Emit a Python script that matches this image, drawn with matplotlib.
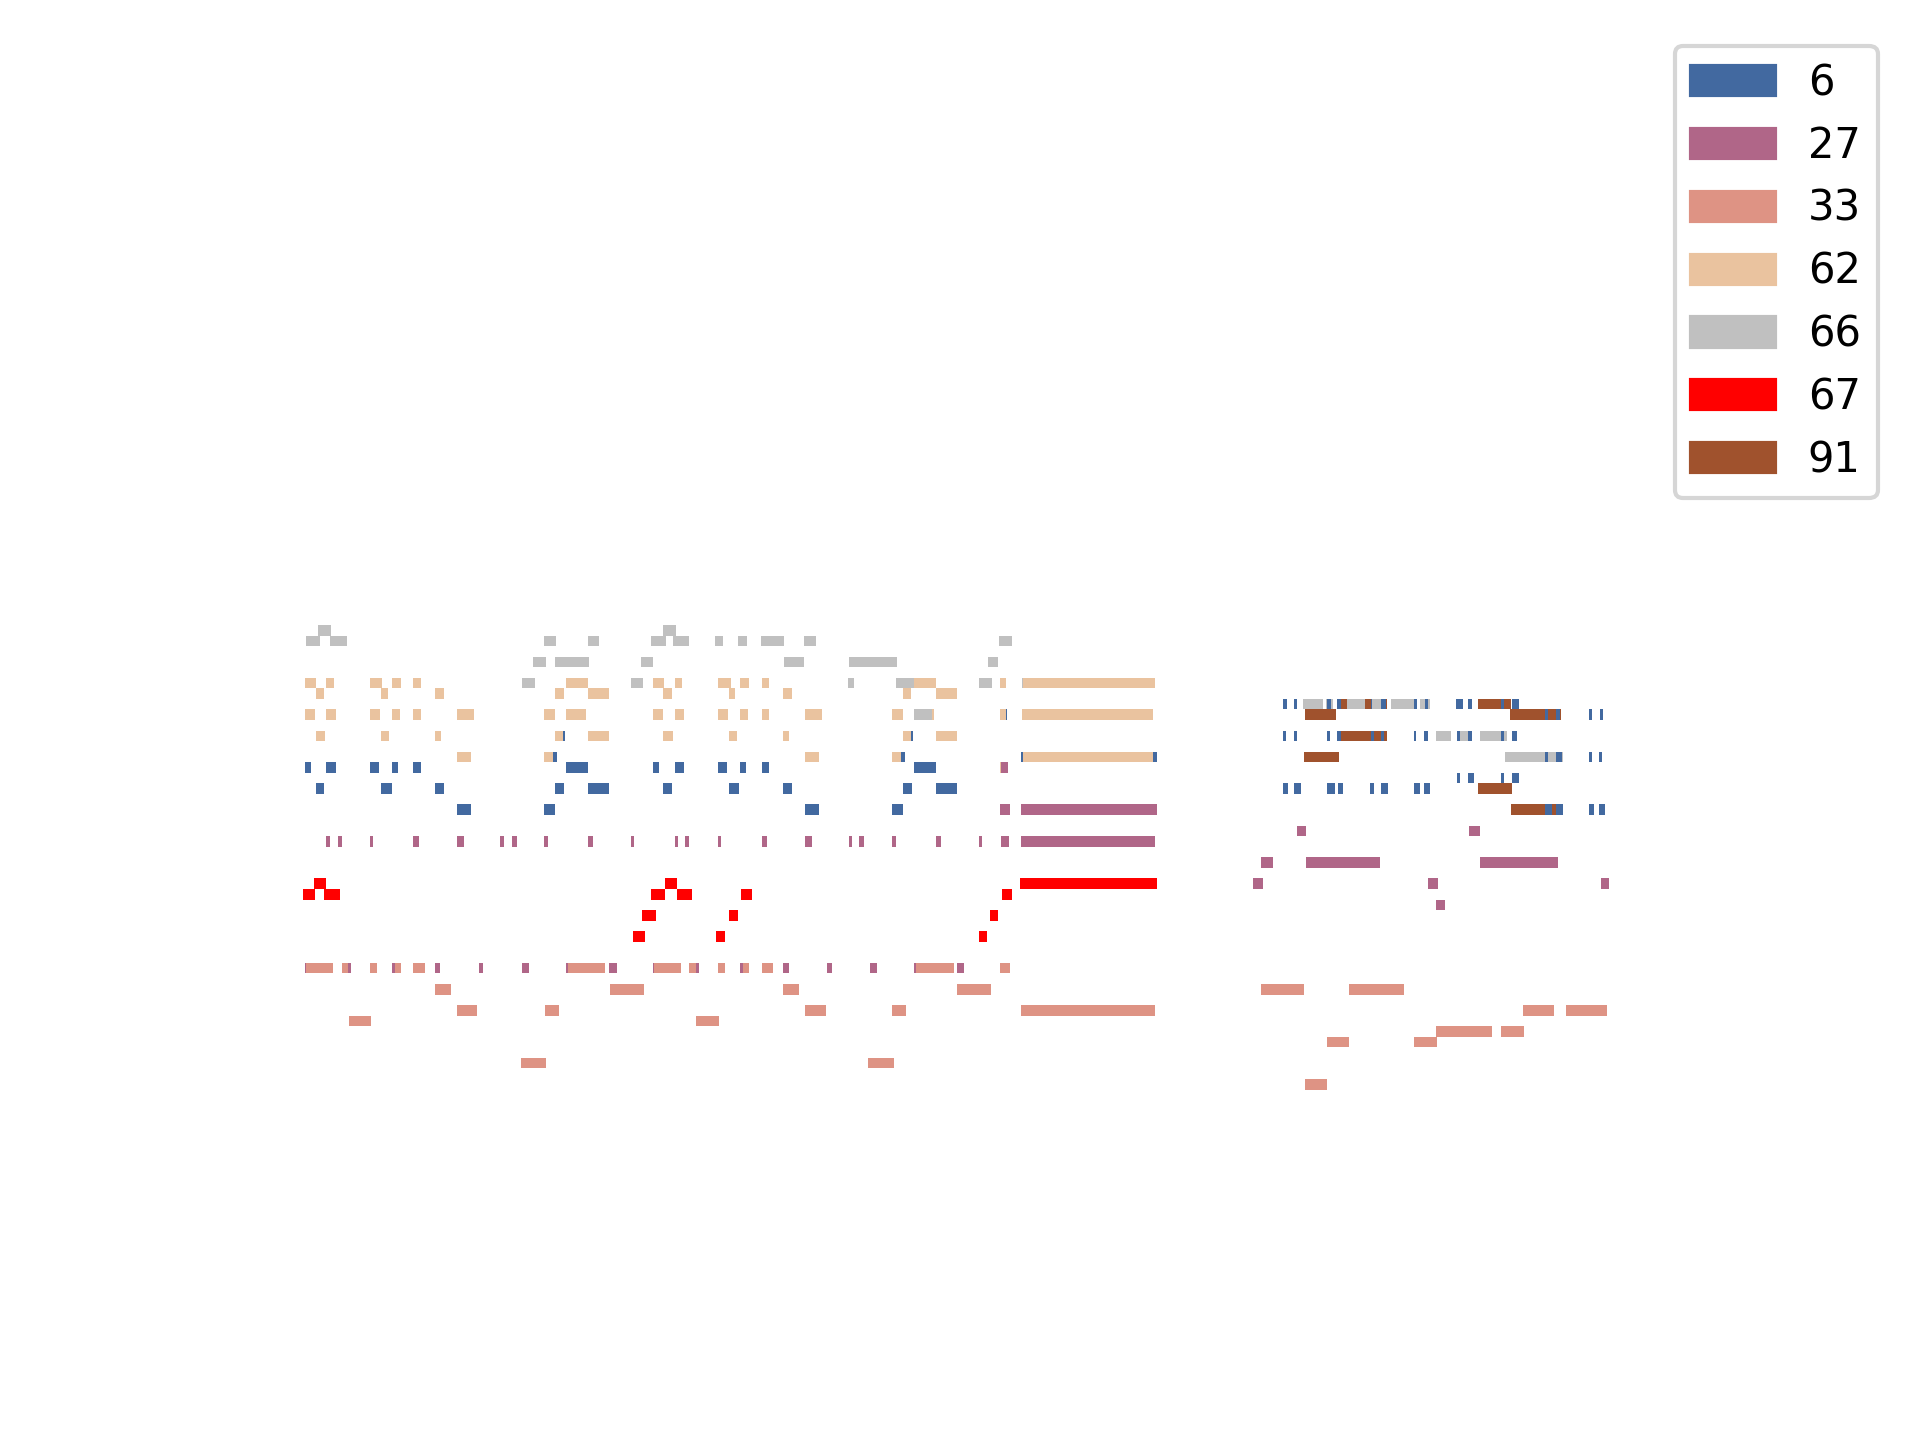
import matplotlib
matplotlib.use("Agg")
import matplotlib.pyplot as plt
from matplotlib.patches import Patch

# Track programs (legend labels) and colours
programs = [6, 27, 33, 62, 66, 67, 91]
colors = {6: "#4269a0", 27: "#b06688", 33: "#de9384", 62: "#eac39f",
          66: "#c0c0c0", 67: "#ff0000", 91: "#a0522d"}

# Notes per track: (pitch, start_tick, end_tick)
notes_6 = [
    (69, 263, 265), (69, 611, 613), (67, 253, 257), (67, 601, 605), (67, 721, 723), (67, 853, 857),
    (71, 706, 707),
    (66, 5, 11), (66, 26, 36), (66, 70, 79), (66, 92, 98), (66, 113, 121), (66, 266, 288),
    (66, 353, 359), (66, 375, 384), (66, 418, 427), (66, 440, 446), (66, 462, 469), (66, 614, 636),
    (64, 16, 24), (64, 81, 92), (64, 135, 144), (64, 255, 264), (64, 288, 309), (64, 363, 372),
    (64, 429, 439), (64, 483, 492), (64, 603, 612), (64, 636, 657),
    (62, 157, 171), (62, 244, 255), (62, 505, 519), (62, 592, 603),
    # second section
    (72, 983, 987), (72, 994, 997), (72, 1027, 1031), (72, 1037, 1041), (72, 1071, 1072),
    (72, 1081, 1086), (72, 1114, 1117), (72, 1125, 1128), (72, 1156, 1163), (72, 1168, 1172),
    (72, 1201, 1204), (72, 1212, 1219),
    (71, 1245, 1248), (71, 1256, 1260), (71, 1289, 1292), (71, 1300, 1303),
    (69, 983, 986), (69, 994, 997), (69, 1027, 1030), (69, 1037, 1041), (69, 1071, 1074),
    (69, 1081, 1084), (69, 1114, 1116), (69, 1124, 1128), (69, 1157, 1160), (69, 1168, 1172),
    (69, 1201, 1204), (69, 1212, 1217),
    (67, 1245, 1248), (67, 1256, 1262), (67, 1289, 1292), (67, 1299, 1302),
    (65, 1157, 1160), (65, 1168, 1174), (65, 1201, 1204), (65, 1212, 1219),
    (64, 983, 988), (64, 994, 1001), (64, 1027, 1035), (64, 1038, 1043), (64, 1070, 1074),
    (64, 1081, 1088), (64, 1114, 1120), (64, 1124, 1130),
    (62, 1245, 1252), (62, 1256, 1263), (62, 1289, 1294), (62, 1299, 1305),
]

notes_27 = [
    (59, 26, 30), (59, 38, 42), (59, 70, 73), (59, 113, 119), (59, 157, 164), (59, 200, 204),
    (59, 212, 217), (59, 244, 248), (59, 288, 293), (59, 331, 334), (59, 375, 378), (59, 385, 389),
    (59, 418, 421), (59, 462, 467), (59, 505, 512), (59, 549, 552), (59, 559, 564), (59, 592, 596),
    (59, 636, 641), (59, 679, 682), (59, 701, 709), (59, 721, 855),
    (62, 700, 710), (62, 721, 857), (66, 701, 708),
    (47, 5, 6), (47, 48, 51), (47, 92, 95), (47, 135, 140), (47, 179, 183), (47, 222, 229),
    (47, 266, 268), (47, 309, 317), (47, 353, 354), (47, 396, 399), (47, 440, 443), (47, 483, 489),
    (47, 527, 532), (47, 570, 577), (47, 614, 616), (47, 657, 664),
    # second section
    (60, 997, 1006), (60, 1169, 1180),
    (57, 961, 973), (57, 1006, 1080), (57, 1180, 1258),
    (55, 953, 963), (55, 1128, 1138), (55, 1301, 1309),
    (53, 1136, 1145),
]

notes_33 = [
    (47, 6, 33), (47, 42, 48), (47, 70, 77), (47, 95, 101), (47, 113, 125), (47, 268, 305),
    (47, 354, 381), (47, 389, 396), (47, 418, 425), (47, 443, 449), (47, 462, 473), (47, 616, 654),
    (47, 700, 710),
    (45, 135, 151), (45, 310, 344), (45, 483, 499), (45, 657, 691),
    (43, 157, 177), (43, 245, 259), (43, 505, 526), (43, 592, 606), (43, 721, 855),
    (42, 49, 71), (42, 396, 419),
    (38, 221, 246), (38, 568, 594),
    # second section
    (45, 961, 1004), (45, 1049, 1104),
    (43, 1223, 1254), (43, 1266, 1307),
    (41, 1136, 1192), (41, 1201, 1224),
    (40, 1027, 1049), (40, 1114, 1137),
    (36, 1005, 1027),
]

notes_62 = [
    (74, 5, 16), (74, 26, 34), (74, 70, 82), (74, 92, 101), (74, 113, 121), (74, 266, 288),
    (74, 353, 364), (74, 375, 382), (74, 418, 431), (74, 440, 449), (74, 462, 469), (74, 614, 636),
    (74, 700, 706), (74, 723, 855),
    (73, 16, 24), (73, 81, 88), (73, 135, 144), (73, 255, 264), (73, 288, 309), (73, 363, 372),
    (73, 429, 435), (73, 483, 492), (73, 603, 611), (73, 636, 657),
    (71, 5, 15), (71, 26, 36), (71, 70, 80), (71, 92, 100), (71, 113, 121), (71, 157, 174),
    (71, 244, 255), (71, 266, 286), (71, 353, 363), (71, 375, 384), (71, 418, 428), (71, 440, 448),
    (71, 462, 469), (71, 505, 522), (71, 592, 603), (71, 614, 634), (71, 700, 706), (71, 722, 853),
    (69, 16, 25), (69, 81, 89), (69, 135, 141), (69, 255, 263), (69, 288, 309), (69, 363, 373),
    (69, 429, 437), (69, 483, 489), (69, 603, 611), (69, 636, 657),
    (67, 157, 171), (67, 244, 253), (67, 505, 519), (67, 592, 601), (67, 723, 853),
    (66, 700, 701),
]

notes_66 = [
    (79, 18, 31), (79, 363, 376),
    (78, 6, 20), (78, 30, 47), (78, 244, 256), (78, 288, 299), (78, 351, 366), (78, 373, 389),
    (78, 415, 423), (78, 438, 447), (78, 461, 484), (78, 504, 516), (78, 699, 712),
    (76, 233, 246), (76, 255, 289), (76, 341, 353), (76, 484, 504), (76, 549, 597), (76, 688, 698),
    (74, 222, 235), (74, 331, 343), (74, 548, 554), (74, 596, 614), (74, 679, 692), (74, 722, 723),
    (71, 614, 632),
    # second section
    (72, 1003, 1023), (72, 1026, 1033), (72, 1047, 1065), (72, 1072, 1081), (72, 1091, 1114),
    (72, 1120, 1130),
    (69, 1136, 1151), (69, 1160, 1168), (69, 1180, 1201), (69, 1204, 1207),
    (67, 1205, 1245), (67, 1248, 1256), (67, 1262, 1263),
]

notes_67 = [
    (55, 14, 26), (55, 365, 377), (55, 720, 857),
    (54, 3, 15), (54, 24, 40), (54, 351, 365), (54, 377, 392), (54, 441, 452), (54, 702, 712),
    (52, 342, 356), (52, 429, 438), (52, 690, 698),
    (50, 333, 345), (50, 416, 425), (50, 679, 687),
]

notes_91 = [
    (72, 1041, 1047), (72, 1065, 1071), (72, 1086, 1087), (72, 1178, 1201), (72, 1204, 1211),
    (71, 1005, 1036), (71, 1210, 1245), (71, 1248, 1256), (71, 1260, 1261),
    (69, 1037, 1087),
    (67, 1004, 1039),
    (64, 1178, 1212),
    (62, 1211, 1245), (62, 1252, 1256),
]

tracks = {6: notes_6, 27: notes_27, 33: notes_33, 62: notes_62,
          66: notes_66, 67: notes_67, 91: notes_91}
draw_order = [33, 62, 66, 91, 27, 67, 6]

fig = plt.figure(figsize=(6.4, 4.8), dpi=300)
ax = fig.add_axes([0, 0, 1, 1])
for prog in draw_order:
    nts = tracks[prog]
    ax.barh([p for p, s, e in nts], [e - s for p, s, e in nts], left=[s for p, s, e in nts],
            height=1.0, align="edge", color=colors[prog], linewidth=0)
ax.set_xlim(-300, 1620)
ax.set_ylim(2.82, 139.18)
ax.axis("off")

handles = [Patch(facecolor=colors[p], edgecolor=colors[p], linewidth=1, label=str(p)) for p in programs]
fig.legend(handles=handles, loc="upper right", bbox_to_anchor=(0.978, 0.9684),
           borderaxespad=0, fontsize=10)
fig.savefig("out.png", dpi=300)
